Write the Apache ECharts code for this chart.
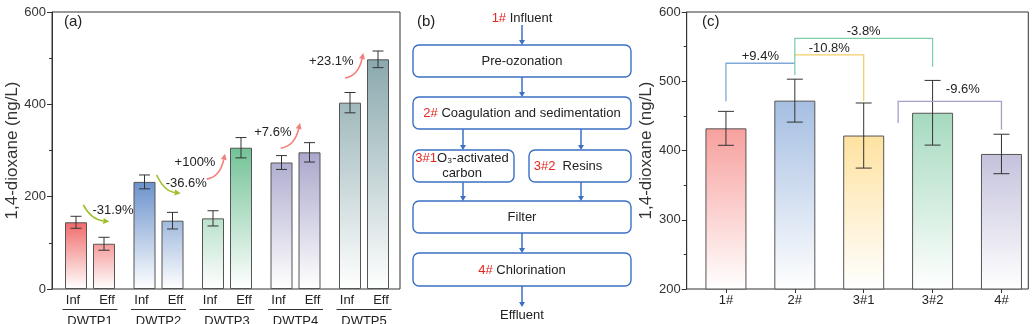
<!DOCTYPE html>
<html><head><meta charset="utf-8">
<script src="https://cdn.jsdelivr.net/npm/echarts@6/dist/echarts.min.js"></script>
<style>html,body{margin:0;padding:0;background:#fff}#c{width:1036px;height:324px}</style>
</head><body><div id="c"></div>
<script>
// ---------- DATA: panel (a) ----------
const plantNames = ['DWTP1', 'DWTP2', 'DWTP3', 'DWTP4', 'DWTP5'];
const stageLabels = ['Inf', 'Eff'];
const infValues = [144.5, 232, 153, 274, 403.6];
const infErrors = [13, 15, 16.5, 15, 22];
const effValues = [98, 148, 306, 296, 497.5];
const effErrors = [14, 18, 22, 21, 18];
const changeLabels = ['-31.9%', '-36.6%', '+100%', '+7.6%', '+23.1%'];
const aTicks = [0, 200, 400, 600];

// ---------- DATA: panel (b) ----------
const flowStart = ['1#', 'Influent'];
const flowSteps = [['', 'Pre-ozonation'], ['2#', 'Coagulation and sedimentation'], ['3#1', 'O\u2083-activated\ncarbon'], ['3#2', '  Resins'], ['', 'Filter'], ['4#', 'Chlorination']];
const flowEnd = 'Effluent';

// ---------- DATA: panel (c) ----------
const stepNames = ['1#', '2#', '3#1', '3#2', '4#'];
const stepValues = [432, 472, 421.6, 454.5, 395];
const stepErrors = [24.5, 31, 47, 46.7, 28.5];
const compLabels = ['+9.4%', '-10.8%', '-3.8%', '-9.6%'];
const cTicks = [200, 300, 400, 500, 600];
const yName = '1,4-dioxane (ng/L)';
const panelTags = ['(a)', '(b)', '(c)'];

// ---------- STYLE / LAYOUT ----------
const FONT = 'Arial, "Liberation Sans", Helvetica, sans-serif';
const TXT = '#333';
const aColors = ['#f06a6a', '#6a92cc', '#72c296', '#aaa7cc', '#8aa9ad'];
const cColors = ['#f7a09d', '#a5bee2', '#fee2a0', '#a5dabe', '#c4c2dc'];
const A_BAR_W = 22, A_BAR_GAP = 6;
const C_BAR_W = 41;
// arrow annotations in panel (a): [dx of band, value] for start, end, text
const aArrowLayout = [
  {s: [-0.098, 182], e: [0.282, 146], t: [0.336, 171], up: false},
  {s: [-0.026, 247], e: [0.324, 207.5], t: [0.406, 229], up: false},
  {s: [-0.296, 238], e: [-0.029, 292.8], t: [-0.467, 274.8], up: true},
  {s: [-0.216, 305], e: [0.066, 359.4], t: [-0.331, 339], up: true},
  {s: [-0.277, 457], e: [-0.01, 511], t: [-0.477, 493], up: true}
];
// brackets in panel (c): from, to, level, leftEnd, rightEnd, color, label dx px, label dy px
const cBracketLayout = [
  {a: 0, b: 1, lv: 526, l: 471, r: 526, color: '#80a8d8', dx: 0, dy: -7},
  {a: 1, b: 2, lv: 538, l: 538, r: 471, color: '#f4cd6a', dx: 0, dy: -7},
  {a: 1, b: 3, lv: 562, l: 509, r: 521, color: '#7fcfa6', dx: 0, dy: -7},
  {a: 2.5, b: 4, lv: 471, l: 439.6, r: 430, color: '#a3a1cb', dx: 13, dy: -12}
];

function hexRgb(h) { const n = parseInt(h.slice(1), 16); return [(n >> 16) & 255, (n >> 8) & 255, n & 255]; }
function mixWhite(h, f) { const c = hexRgb(h); return 'rgb(' + c.map(v => Math.round(255 + (v - 255) * f)).join(',') + ')'; }
function grad(top) { return new echarts.graphic.LinearGradient(0, 0, 0, 1, [{offset: 0, color: top}, {offset: 1, color: '#ffffff'}]); }

const barBorder = {borderColor: '#555', borderWidth: 1};

function errRender(offsetPx, capHalf) {
  return function (params, api) {
    const cat = api.value(0), v = api.value(1), e = api.value(2);
    const hi = api.coord([cat, v + e]), lo = api.coord([cat, v - e]);
    const x = hi[0] + offsetPx;
    const st = {stroke: '#333', lineWidth: 1};
    return {type: 'group', children: [
      {type: 'line', shape: {x1: x, y1: hi[1], x2: x, y2: lo[1]}, style: st},
      {type: 'line', shape: {x1: x - capHalf, y1: hi[1], x2: x + capHalf, y2: hi[1]}, style: st},
      {type: 'line', shape: {x1: x - capHalf, y1: lo[1], x2: x + capHalf, y2: lo[1]}, style: st}
    ]};
  };
}

function bandPoint(api, cat, dx, v) {
  const p = api.coord([cat, v]);
  const bw = api.size([1, 0])[0];
  return [p[0] + dx * bw, p[1]];
}

function arrowRender(params, api) {
  const i = params.dataIndex;
  const L = aArrowLayout[i];
  const s = bandPoint(api, i, L.s[0], L.s[1]);
  const e = bandPoint(api, i, L.e[0], L.e[1]);
  const t = bandPoint(api, i, L.t[0], L.t[1]);
  const color = L.up ? '#f27e7a' : '#9dbf2a';
  let cp;
  if (L.up) cp = [s[0] + 0.72 * (e[0] - s[0]), s[1] - 0.08 * (s[1] - e[1])];
  else cp = [s[0] + 0.3 * (e[0] - s[0]), e[1] - 0.12 * (e[1] - s[1])];
  const dx = e[0] - cp[0], dy = e[1] - cp[1];
  const len = Math.hypot(dx, dy) || 1;
  const ux = dx / len, uy = dy / len;
  const hl = 6, hw = 3;
  const base = [e[0] - ux * hl, e[1] - uy * hl];
  return {type: 'group', children: [
    {type: 'bezierCurve', shape: {x1: s[0], y1: s[1], x2: base[0], y2: base[1], cpx1: cp[0], cpy1: cp[1]}, style: {stroke: color, lineWidth: 1.6, fill: null}},
    {type: 'polygon', shape: {points: [e, [base[0] - uy * hw, base[1] + ux * hw], [base[0] + uy * hw, base[1] - ux * hw]]}, style: {fill: color}},
    {type: 'text', x: t[0], y: t[1], style: {text: changeLabels[i], fill: '#222', font: '13px ' + FONT, align: 'center', verticalAlign: 'middle'}, z2: 10}
  ]};
}

const half = (A_BAR_W + A_BAR_GAP) / 2;
function aLabelRender(params, api) {
  const i = params.dataIndex;
  const p = api.coord([i, aTicks[0]]);
  const st = (txt, x, y) => ({type: 'text', x: x, y: y, style: {text: txt, fill: '#222', font: '13px ' + FONT, align: 'center', verticalAlign: 'middle'}});
  return {type: 'group', children: [
    st(stageLabels[0], p[0] - half - 3, p[1] + 11),
    st(stageLabels[1], p[0] + half + 3, p[1] + 11),
    {type: 'line', shape: {x1: p[0] - 27.5, y1: p[1] + 20.5, x2: p[0] + 27.5, y2: p[1] + 20.5}, style: {stroke: '#333', lineWidth: 1}},
    st(plantNames[i], p[0], p[1] + 32)
  ]};
}

function bracketRender(params, api) {
  const i = params.dataIndex;
  const B = cBracketLayout[i];
  const bw = api.size([1, 0])[0];
  const xa = api.coord([Math.floor(B.a), B.lv])[0] + (B.a - Math.floor(B.a)) * bw;
  const xb = api.coord([Math.floor(B.b), B.lv])[0] + (B.b - Math.floor(B.b)) * bw;
  const y = api.coord([0, B.lv])[1];
  const yl = api.coord([0, B.l])[1];
  const yr = api.coord([0, B.r])[1];
  const st = {stroke: B.color, lineWidth: 1.3, fill: null};
  return {type: 'group', children: [
    {type: 'polyline', shape: {points: [[xa, yl], [xa, y], [xb, y], [xb, yr]]}, style: st},
    {type: 'text', x: (xa + xb) / 2 + B.dx, y: y + B.dy, style: {text: compLabels[i], fill: '#222', font: '13px ' + FONT, align: 'center', verticalAlign: 'middle'}}
  ]};
}

// ---------- panel (b) graphics ----------
const BLUE = '#3b70c4';
const RED = '#e5261f';
function vArrow(x, y1, y2) {
  return [
    {type: 'line', shape: {x1: x, y1: y1, x2: x, y2: y2 - 4}, style: {stroke: BLUE, lineWidth: 1.5}},
    {type: 'polygon', shape: {points: [[x - 3, y2 - 5], [x + 3, y2 - 5], [x, y2]]}, style: {fill: BLUE}}
  ];
}
function richText(tag, body, x, y) {
  return {type: 'text', x: x, y: y, style: {
    text: (tag ? '{r|' + tag + '}' + (tag.length && body[0] !== ' ' && tag !== '3#1' ? ' ' : '') : '') + body.split('\n').map((l, k) => '{n|' + l + '}').join('\n'),
    align: 'center', verticalAlign: 'middle', font: '13px ' + FONT, fill: '#222', lineHeight: 15,
    rich: {r: {fill: RED, font: '13px ' + FONT, lineHeight: 15}, n: {fill: '#222', font: '13px ' + FONT, lineHeight: 15}}
  }, z: 10};
}
const boxL = 413, boxR = 631, boxC = 522;
const boxRows = [[45, 77], [97, 129], [150, 182], [201, 233], [253, 286]];
const splitL = [413, 514], splitR = [529, 631];
const colL = 463, colR = 581;
const bEls = [];
function box(x1, x2, y1, y2) {
  bEls.push({type: 'rect', shape: {x: x1, y: y1, width: x2 - x1, height: y2 - y1, r: 6}, style: {fill: '#fff', stroke: BLUE, lineWidth: 1.4}, z: 5});
}
box(boxL, boxR, boxRows[0][0], boxRows[0][1]);
box(boxL, boxR, boxRows[1][0], boxRows[1][1]);
box(splitL[0], splitL[1], boxRows[2][0], boxRows[2][1]);
box(splitR[0], splitR[1], boxRows[2][0], boxRows[2][1]);
box(boxL, boxR, boxRows[3][0], boxRows[3][1]);
box(boxL, boxR, boxRows[4][0], boxRows[4][1]);
bEls.push(...vArrow(boxC, 25, boxRows[0][0]));
bEls.push(...vArrow(boxC, boxRows[0][1], boxRows[1][0]));
bEls.push(...vArrow(colL, boxRows[1][1], boxRows[2][0]));
bEls.push(...vArrow(colR, boxRows[1][1], boxRows[2][0]));
bEls.push(...vArrow(colL, boxRows[2][1], boxRows[3][0]));
bEls.push(...vArrow(colR, boxRows[2][1], boxRows[3][0]));
bEls.push(...vArrow(boxC, boxRows[3][1], boxRows[4][0]));
bEls.push(...vArrow(boxC, boxRows[4][1], 307));
bEls.push(richText(flowStart[0], flowStart[1], boxC, 18));
bEls.push(richText(flowSteps[0][0], flowSteps[0][1], boxC, 61.5));
bEls.push(richText(flowSteps[1][0], flowSteps[1][1], boxC, 113.5));
bEls.push(richText(flowSteps[2][0], flowSteps[2][1], 462, 166));
bEls.push(richText(flowSteps[3][0], flowSteps[3][1], 568, 166));
bEls.push(richText(flowSteps[4][0], flowSteps[4][1], boxC, 217.5));
bEls.push(richText(flowSteps[5][0], flowSteps[5][1], boxC, 270));
bEls.push(richText('', flowEnd, boxC, 315));
const tagPos = [[64, 22], [417, 22], [702, 22]];
panelTags.forEach((t, k) => bEls.push({type: 'text', x: tagPos[k][0], y: tagPos[k][1], style: {text: t, font: '15px ' + FONT, fill: '#222', align: 'left', verticalAlign: 'middle'}, z: 10}));

// ---------- axes ----------
function frameY(gi, ticks, gap) {
  return {
    gridIndex: gi, type: 'value', min: ticks[0], max: ticks[ticks.length - 1], interval: ticks[1] - ticks[0],
    name: yName, nameLocation: 'middle', nameGap: gap, nameTextStyle: {fontSize: 17, color: TXT, fontFamily: FONT},
    axisLine: {show: true, lineStyle: {color: '#333', width: 1}},
    axisTick: {show: true, length: 5, lineStyle: {color: '#333'}},
    minorTick: {show: true, splitNumber: 2, length: 3, lineStyle: {color: '#333'}},
    splitLine: {show: false}, minorSplitLine: {show: false},
    axisLabel: {fontSize: 13, color: TXT, margin: 6, fontFamily: FONT}
  };
}
function hiddenY(gi, ticks) { return {gridIndex: gi, type: 'value', min: ticks[0], max: ticks[ticks.length - 1], show: false}; }

const option = {
  animation: false,
  textStyle: {fontFamily: FONT},
  grid: [
    {left: 52, top: 12, width: 348, height: 277, show: true, borderColor: '#333', borderWidth: 1, backgroundColor: 'transparent'},
    {left: 55.75, top: 12, width: 342.5, height: 277},
    {left: 686.7, top: 12, width: 341.6, height: 277, show: true, borderColor: '#333', borderWidth: 1, backgroundColor: 'transparent'},
    {left: 691.5, top: 12, width: 344.4, height: 277}
  ],
  xAxis: [
    {gridIndex: 0, type: 'category', data: plantNames, show: false},
    {gridIndex: 1, type: 'category', data: plantNames, show: false},
    {gridIndex: 2, type: 'category', data: stepNames, show: false},
    {gridIndex: 3, type: 'category', data: stepNames,
      axisLine: {show: false}, axisTick: {show: true, alignWithLabel: true, length: 4, lineStyle: {color: '#333'}},
      axisLabel: {fontSize: 13, color: '#222', margin: 5, interval: 0, fontFamily: FONT}}
  ],
  yAxis: [frameY(0, aTicks, 25), hiddenY(1, aTicks), frameY(2, cTicks, 29), hiddenY(3, cTicks)],
  graphic: {elements: bEls},
  series: [
    {type: 'bar', name: 'Inf', xAxisIndex: 1, yAxisIndex: 1, barWidth: A_BAR_W, barGap: (A_BAR_GAP / A_BAR_W * 100) + '%',
      data: infValues.map((v, i) => ({value: v, itemStyle: Object.assign({color: grad(mixWhite(aColors[i], v / Math.max(v, effValues[i])))}, barBorder)}))},
    {type: 'bar', name: 'Eff', xAxisIndex: 1, yAxisIndex: 1, barWidth: A_BAR_W, barGap: (A_BAR_GAP / A_BAR_W * 100) + '%',
      data: effValues.map((v, i) => ({value: v, itemStyle: Object.assign({color: grad(mixWhite(aColors[i], v / Math.max(v, infValues[i])))}, barBorder)}))},
    {type: 'custom', xAxisIndex: 1, yAxisIndex: 1, clip: false, z: 5, renderItem: errRender(-half, 5.5),
      data: infValues.map((v, i) => [i, v, infErrors[i]])},
    {type: 'custom', xAxisIndex: 1, yAxisIndex: 1, clip: false, z: 5, renderItem: errRender(half, 5.5),
      data: effValues.map((v, i) => [i, v, effErrors[i]])},
    {type: 'custom', xAxisIndex: 1, yAxisIndex: 1, clip: false, z: 6, renderItem: arrowRender,
      data: changeLabels.map((t, i) => [i, infValues[i]])},
    {type: 'custom', xAxisIndex: 1, yAxisIndex: 1, clip: false, z: 6, renderItem: aLabelRender,
      data: plantNames.map((n, i) => [i, aTicks[0]])},
    {type: 'bar', xAxisIndex: 3, yAxisIndex: 3, barWidth: C_BAR_W,
      data: stepValues.map((v, i) => ({value: v, itemStyle: Object.assign({color: grad(cColors[i])}, barBorder)}))},
    {type: 'custom', xAxisIndex: 3, yAxisIndex: 3, clip: false, z: 5, renderItem: errRender(0, 8),
      data: stepValues.map((v, i) => [i, v, stepErrors[i]])},
    {type: 'custom', xAxisIndex: 3, yAxisIndex: 3, clip: false, z: 6, renderItem: bracketRender,
      data: compLabels.map((t, i) => [i, stepValues[i]])}
  ]
};
const chart = echarts.init(document.getElementById('c'));
chart.setOption(option);
</script>
</body></html>
